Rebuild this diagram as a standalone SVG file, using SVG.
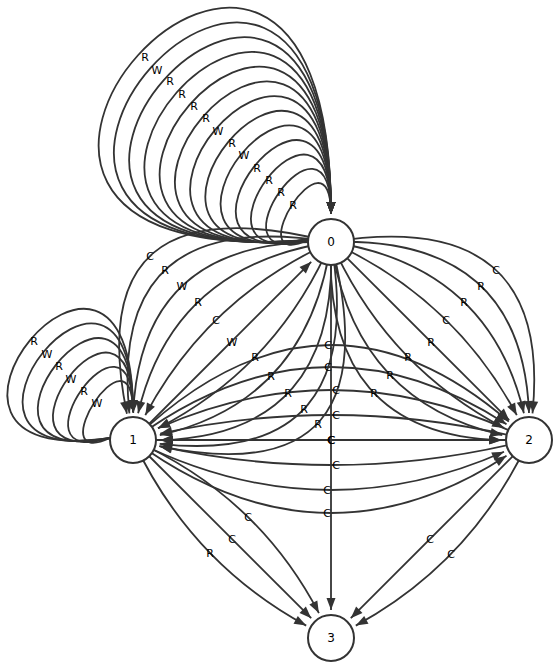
<svg xmlns="http://www.w3.org/2000/svg" width="558" height="669" viewBox="0 0 558 669">
<defs>
<marker id="ah" markerUnits="userSpaceOnUse" orient="auto" refX="0" refY="0" markerWidth="14" markerHeight="10" overflow="visible">
<path d="M0,0 L-12,-4.5 L-12,4.5 Z" fill="#333"/>
</marker>
</defs>
<style>
.e{fill:none;stroke:#333;stroke-width:1.8;marker-end:url(#ah)}
.node circle{fill:#fff;stroke:#333;stroke-width:2}
.node text{font-family:"DejaVu Sans",sans-serif;font-size:12px;text-anchor:middle;dominant-baseline:central;fill:#000}
.lbl text{font-family:"DejaVu Sans",sans-serif;font-size:11px;text-anchor:middle;dominant-baseline:central;fill:#000}
</style>
<rect width="558" height="669" fill="#fff"/>
<g id="connectors">
<!-- self loops on 0 -->
<path class="e" d="M308,240 C236,273 331,120 331,214"/>
<path class="e" d="M308,240 C201.7,273.5 331,86.4 331,214"/>
<path class="e" d="M308,240 C167.3,274 331,52.8 331,214"/>
<path class="e" d="M308,240 C133,274.5 331,19.3 331,214"/>
<path class="e" d="M308,240 C98.7,275 331,-14.3 331,214"/>
<path class="e" d="M308,240 C64.3,275.5 331,-47.9 331,214"/>
<path class="e" d="M308,240 C30,276 331,-81.5 331,214"/>
<path class="e" d="M308,240 C-4.3,276.5 331,-115 331,214"/>
<path class="e" d="M308,240 C-38.7,277 331,-148.6 331,214"/>
<path class="e" d="M308,240 C-73,277.5 331,-182.2 331,214"/>
<path class="e" d="M308,240 C-107.3,278 331,-215.8 331,214"/>
<path class="e" d="M308,240 C-141.7,278.5 331,-249.4 331,214"/>
<path class="e" d="M308,240 C-176,279 331,-283 331,214"/>
<!-- self loops on 1 -->
<path class="e" d="M110,438 C38,471 133,318 133,412"/>
<path class="e" d="M110,438 C3.7,471.5 133,284.4 133,412"/>
<path class="e" d="M110,438 C-30.7,472 133,250.8 133,412"/>
<path class="e" d="M110,438 C-65,472.5 133,217.3 133,412"/>
<path class="e" d="M110,438 C-99.3,473 133,183.7 133,412"/>
<path class="e" d="M110,438 C-133.7,473.5 133,150.1 133,412"/>
<!-- 0 -> 1 -->
<path class="e" d="M331,242 Q78.6,177.5 126.9,413.7"/>
<path class="e" d="M331,242 Q107.8,205.3 129.4,413.3"/>
<path class="e" d="M331,242 Q141,236.4 133.2,413"/>
<path class="e" d="M331,242 Q172.8,265.9 138.1,413.3"/>
<path class="e" d="M331,242 Q207.7,298.2 145.3,415.2"/>
<path class="e" d="M331,242 Q276.6,367.2 158,428.2"/>
<path class="e" d="M331,242 Q308,401.1 159.8,435.1"/>
<path class="e" d="M331,242 Q339.4,435 160,440.2"/>
<path class="e" d="M331,242 Q369.6,467.2 159.7,443.8"/>
<path class="e" d="M331,242 Q396.5,495.4 159.2,446.1"/>
<!-- 1 -> 0 -->
<path class="e" d="M133,440 L311.2,261.8"/>
<!-- 0 -> 2 -->
<path class="e" d="M331,242 Q553.2,206.2 532.5,413.3"/>
<path class="e" d="M331,242 Q522,235.5 529,413"/>
<path class="e" d="M331,242 Q489.2,265.9 523.9,413.3"/>
<path class="e" d="M331,242 Q454.3,298.2 516.8,415.2"/>
<path class="e" d="M331,242 L509.2,420.2"/>
<path class="e" d="M331,242 Q386.3,366.2 504.1,428"/>
<path class="e" d="M331,242 Q354,401.1 502.3,435.1"/>
<path class="e" d="M331,242 Q322.6,435 502,440.2"/>
<!-- 1 <-> 2 -->
<path class="e" d="M133,440 Q320.9,259.7 508.8,421.6"/>
<path class="e" d="M133,440 Q319.7,302.3 506.5,424.3"/>
<path class="e" d="M529,440 Q343.5,346.3 158,428.2"/>
<path class="e" d="M529,440 Q344.6,393.4 160.2,433.6"/>
<path class="e" d="M133,440 L501,440"/>
<path class="e" d="M529,440 L161,440"/>
<path class="e" d="M529,440 Q344.6,486.6 160.2,446.4"/>
<path class="e" d="M133,440 Q318.5,533.7 504,451.8"/>
<path class="e" d="M133,440 Q319.7,577.7 506.5,455.7"/>
<!-- 0 -> 3 -->
<path class="e" d="M331,242 L331,610"/>
<!-- 1 -> 3 -->
<path class="e" d="M133,440 Q190.1,562.3 306.2,625.6"/>
<path class="e" d="M133,440 L311.2,618.2"/>
<path class="e" d="M133,440 Q257.2,495.3 318.9,613.1"/>
<!-- 2 -> 3 -->
<path class="e" d="M529,440 L350.8,618.2"/>
<path class="e" d="M529,440 Q471.9,562.3 355.8,625.6"/>
</g>
<g id="node-0" class="node"><circle cx="331" cy="242" r="23"/><text x="331" y="242">0</text></g>
<g id="node-1" class="node"><circle cx="133" cy="440" r="23"/><text x="133" y="440">1</text></g>
<g id="node-2" class="node"><circle cx="529" cy="440" r="23"/><text x="529" y="440">2</text></g>
<g id="node-3" class="node"><circle cx="331" cy="638" r="23"/><text x="331" y="638">3</text></g>
<g id="edge-labels" class="lbl">
<text x="145" y="57">R</text><text x="157" y="70">W</text><text x="170" y="81">R</text><text x="182" y="94">R</text>
<text x="194" y="106">R</text><text x="206" y="118">R</text><text x="218" y="131">W</text><text x="232" y="143">R</text>
<text x="244" y="155">W</text><text x="257" y="168">R</text><text x="269" y="180">R</text><text x="281" y="192">R</text>
<text x="293" y="205">R</text>
<text x="34" y="341">R</text><text x="47" y="354">W</text><text x="59" y="366">R</text><text x="71" y="379">W</text>
<text x="84" y="391">R</text><text x="97" y="403">W</text>
<text x="150" y="256">C</text><text x="165" y="270">R</text><text x="182" y="286">W</text><text x="198" y="302">R</text>
<text x="216" y="320">C</text><text x="232" y="342">W</text>
<text x="255" y="357">R</text><text x="271" y="376">R</text><text x="288" y="393">R</text><text x="304" y="409">R</text><text x="318" y="424">R</text>
<text x="496" y="270">C</text><text x="481" y="286">R</text><text x="464" y="302">R</text><text x="446" y="320">C</text>
<text x="431" y="342">R</text><text x="408" y="357">R</text><text x="390" y="375">R</text><text x="374" y="393">R</text>
<text x="328" y="345">C</text><text x="328" y="367">C</text><text x="336" y="390">C</text><text x="336" y="415">C</text>
<text x="331" y="440">C</text><text x="331.7" y="440">C</text><text x="331" y="440">C</text>
<text x="336" y="465">C</text><text x="327" y="490">C</text><text x="327" y="513">C</text>
<text x="210" y="553">R</text><text x="232" y="539">C</text><text x="248" y="517">C</text>
<text x="430" y="539">C</text><text x="451" y="554">C</text>
</g>
</svg>
